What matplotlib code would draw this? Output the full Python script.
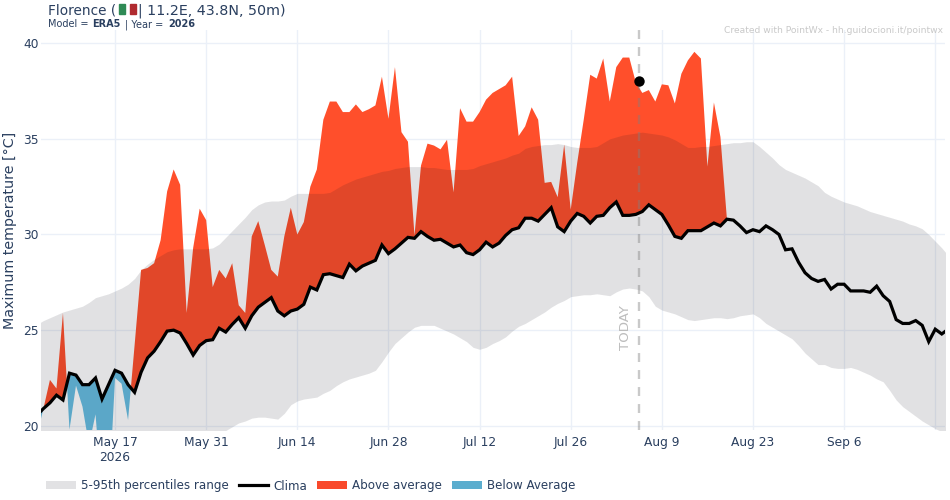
import numpy as np
import pandas as pd
import matplotlib
matplotlib.use("Agg")
import matplotlib.pyplot as plt
import matplotlib.dates as mdates
from matplotlib.patches import Patch, Rectangle
from matplotlib.lines import Line2D

start_date = "2026-05-05"
today_date = "2026-08-05 10:00"
today_value = 38.0
tick_dates = ["2026-05-17", "2026-05-31", "2026-06-14", "2026-06-28", "2026-07-12",
              "2026-07-26", "2026-08-09", "2026-08-23", "2026-09-06", "2026-09-20"]
tick_labels = ["May 17\n2026", "May 31", "Jun 14", "Jun 28", "Jul 12",
               "Jul 26", "Aug 9", "Aug 23", "Sep 6", ""]
y_ticks = [20, 25, 30, 35, 40]

clima = [20.55, 20.9, 21.2, 21.6, 21.35, 22.75, 22.65, 22.15, 22.15, 22.5,
         21.4, 22.15, 22.9, 22.75, 22.15, 21.75, 22.8, 23.55, 23.9, 24.4,
         24.95, 25.0, 24.85, 24.3, 23.7, 24.2, 24.45, 24.5, 25.1, 24.9,
         25.3, 25.65, 25.1, 25.75, 26.2, 26.45, 26.7, 26.0, 25.75, 26.0,
         26.1, 26.35, 27.25, 27.1, 27.9, 27.95, 27.85, 27.75, 28.45, 28.1,
         28.35, 28.5, 28.65, 29.45, 29.0, 29.25, 29.55, 29.85, 29.8, 30.15,
         29.9, 29.7, 29.75, 29.55, 29.35, 29.45, 29.05, 28.95, 29.2, 29.6,
         29.35, 29.55, 29.95, 30.25, 30.35, 30.85, 30.85, 30.7, 31.05, 31.4,
         30.4, 30.15, 30.7, 31.1, 30.95, 30.6, 30.95, 31.0, 31.4, 31.7,
         31.0, 31.0, 31.05, 31.2, 31.55, 31.3, 31.05, 30.5, 29.9, 29.8,
         30.2, 30.2, 30.2, 30.4, 30.6, 30.45, 30.8, 30.75, 30.45, 30.1,
         30.25, 30.15, 30.45, 30.25, 30.0, 29.2, 29.25, 28.55, 28.0, 27.7,
         27.55, 27.65, 27.15, 27.4, 27.4, 27.05, 27.05, 27.05, 26.98, 27.3,
         26.8, 26.5, 25.55, 25.35, 25.35, 25.5, 25.25, 24.4, 25.05, 24.8,
         25.05]

observed = [19.5, 20.9, 22.4, 21.95, 25.9, 19.8, 22.1, 21.0, 19.0, 20.6,
            16.3, 16.0, 22.5, 22.2, 20.3, 24.2, 28.15, 28.25, 28.5, 29.7,
            32.25, 33.4, 32.6, 25.9, 29.3, 31.35, 30.75, 27.25, 28.15, 27.7,
            28.5, 26.3, 25.9, 29.9, 30.7, 29.45, 28.15, 27.8, 29.9, 31.4,
            30.0, 30.65, 32.5, 33.4, 36.0, 36.95, 36.95, 36.4, 36.4, 36.8,
            36.4, 36.55, 36.75, 38.25, 36.05, 38.75, 35.35, 34.85, 29.95, 33.6,
            34.75, 34.65, 34.45, 34.95, 32.2, 36.6, 35.9, 35.9, 36.4, 37.05,
            37.4, 37.6, 37.8, 38.25, 35.15, 35.65, 36.65, 36.0, 32.7, 32.75,
            31.95, 34.7, 31.3, 33.75, 36.0, 38.35, 38.15, 39.2, 36.95, 38.75,
            39.25, 39.25, 37.95, 37.4, 37.55, 36.95, 37.85, 37.8, 36.85, 38.4,
            39.1, 39.55, 39.2, 33.55, 36.9, 35.1, 30.8]

p95 = [25.3, 25.5, 25.65, 25.8, 25.95, 26.05, 26.15, 26.25, 26.45, 26.7,
       26.8, 26.9, 27.05, 27.2, 27.4, 27.7, 28.15, 28.45, 28.7, 28.9,
       29.1, 29.2, 29.25, 29.25, 29.25, 29.25, 29.25, 29.3, 29.5, 29.85,
       30.2, 30.55, 30.9, 31.3, 31.55, 31.7, 31.75, 31.75, 31.8, 32.0,
       32.15, 32.15, 32.15, 32.15, 32.15, 32.2, 32.4, 32.6, 32.75, 32.9,
       33.0, 33.1, 33.2, 33.3, 33.35, 33.45, 33.5, 33.55, 33.55, 33.55,
       33.5, 33.5, 33.45, 33.4, 33.4, 33.4, 33.4, 33.45, 33.6, 33.7,
       33.8, 33.9, 34.0, 34.15, 34.25, 34.5, 34.6, 34.65, 34.7, 34.7,
       34.75, 34.7, 34.6, 34.55, 34.55, 34.55, 34.6, 34.8, 35.0, 35.1,
       35.2, 35.25, 35.3, 35.35, 35.3, 35.25, 35.2, 35.1, 34.95, 34.75,
       34.55, 34.55, 34.6, 34.6, 34.65, 34.7, 34.75, 34.8, 34.8, 34.85,
       34.85, 34.6, 34.3, 34.0, 33.65, 33.4, 33.25, 33.1, 32.95, 32.75,
       32.55, 32.2, 32.0, 31.85, 31.7, 31.6, 31.5, 31.35, 31.2, 31.1,
       31.0, 30.9, 30.8, 30.7, 30.55, 30.45, 30.3, 30.0, 29.65, 29.3,
       28.9]

p5 = [18.6, 18.7, 18.7, 18.8, 18.8, 18.9, 18.9, 19.0, 19.0, 19.1,
      19.1, 19.1, 19.2, 19.2, 19.2, 19.3, 19.3, 19.3, 19.4, 19.4,
      19.4, 19.5, 19.5, 19.5, 19.6, 19.6, 19.6, 19.7, 19.7, 19.75,
      19.95, 20.15, 20.25, 20.4, 20.45, 20.45, 20.4, 20.35, 20.65, 21.1,
      21.3, 21.4, 21.45, 21.5, 21.7, 21.85, 22.1, 22.3, 22.45, 22.55,
      22.65, 22.75, 22.9, 23.35, 23.85, 24.3, 24.6, 24.9, 25.15, 25.25,
      25.25, 25.25, 25.1, 24.95, 24.8, 24.6, 24.4, 24.1, 24.0, 24.1,
      24.3, 24.45, 24.65, 24.95, 25.2, 25.35, 25.55, 25.75, 25.95, 26.2,
      26.4, 26.55, 26.75, 26.8, 26.85, 26.85, 26.9, 26.85, 26.8, 27.0,
      27.15, 27.2, 27.15, 27.05, 26.75, 26.25, 26.05, 25.95, 25.85, 25.7,
      25.55, 25.5, 25.55, 25.6, 25.65, 25.65, 25.6, 25.65, 25.75, 25.8,
      25.85, 25.65, 25.35, 25.15, 24.95, 24.75, 24.55, 24.2, 23.8, 23.5,
      23.2, 23.2, 23.05, 23.0, 23.0, 23.05, 22.95, 22.8, 22.65, 22.45,
      22.3, 21.85, 21.35, 21.0, 20.75, 20.5, 20.25, 20.05, 19.85, 19.7,
      19.6]

INK = "#2a3f5f"
W, H = 950, 500
plt.rcParams["font.family"] = "DejaVu Sans"
fig = plt.figure(figsize=(W / 100, H / 100), dpi=100)
ax = fig.add_axes([41 / W, 1 - 430 / H, (945 - 41) / W, 400 / H])

x = mdates.date2num(pd.date_range(start_date, periods=len(clima), freq="D"))
clima_a = np.array(clima)
obs = np.array(observed)
xo = x[: len(obs)]
co = clima_a[: len(obs)]

ax.fill_between(xo, co, obs, where=obs >= co, interpolate=True, color="#ff4f2b", lw=0, zorder=2)
ax.fill_between(xo, co, obs, where=obs <= co, interpolate=True, color="#66bde0", lw=0, zorder=2)
ax.fill_between(x, p5, p95, color="#10101e", alpha=0.12, lw=0, zorder=3)
ax.plot(x, clima, color="black", lw=2.3, solid_joinstyle="miter", zorder=4)

today_x = mdates.date2num(pd.Timestamp(today_date))
ax.axvline(today_x, color="#808080", alpha=0.42, lw=1.7, dashes=(3.8, 3.4), zorder=5)
ax.plot([today_x], [today_value], "o", color="black", ms=7.5, mew=0, zorder=6, clip_on=False)
ax.text(today_x - 13.5 / 6.51, 26.3, "TODAY", rotation=90, ha="center", va="top",
        fontsize=9.6, color="#bdbdbd", zorder=6)

ax.set_xlim(mdates.date2num(pd.Timestamp("2026-05-05 15:00")),
            mdates.date2num(pd.Timestamp("2026-09-21 12:00")))
ax.set_ylim(19.78, 40.69)
ax.set_xticks(mdates.date2num(pd.to_datetime(tick_dates)))
ax.set_xticklabels(tick_labels)
ax.set_yticks(y_ticks)
ax.grid(True, color="#ebf0f8", lw=1.0, zorder=0)
ax.set_axisbelow(True)
for s in ax.spines.values():
    s.set_visible(False)
ax.tick_params(length=0, labelsize=8.8, labelcolor=INK, pad=4)
ax.tick_params(axis="y", pad=1.5)
ax.set_ylabel("Maximum temperature [°C]", fontsize=10.3, color=INK)
ax.yaxis.set_label_coords((17.5 - 41) / (945 - 41), 1 - (230 - 30) / 400)


def px_text(px, py, s, **kw):
    kw.setdefault("color", INK)
    return fig.text(px / W, 1 - py / H, s, va="baseline", **kw)


px_text(48, 15, "Florence (", fontsize=9.8)
fig.add_artist(Rectangle((119 / W, 1 - 14 / H), 6 / W, 10 / H, color="#2f8a55", transform=fig.transFigure))
fig.add_artist(Rectangle((130 / W, 1 - 14 / H), 6 / W, 10 / H, color="#b02a2f", transform=fig.transFigure))
px_text(138, 15, "| 11.2E, 43.8N, 50m)", fontsize=10.3)
px_text(48, 27, "Model = ", fontsize=7.0)
px_text(92, 27, "ERA5", fontsize=7.0, fontweight="bold")
px_text(125, 27, "| Year = ", fontsize=7.0)
px_text(168, 27, "2026", fontsize=7.0, fontweight="bold")
px_text(943, 33, "Created with PointWx - hh.guidocioni.it/pointwx", fontsize=6.55,
        ha="right", color="#c9c9c9")

handles = [Patch(color="#e2e2e4", lw=0), Line2D([], [], color="black", lw=2.3),
           Patch(color="#f9492b", lw=0), Patch(color="#5badce", lw=0)]
labels = ["5-95th percentiles range", "Clima", "Above average", "Below Average"]
fig.legend(handles, labels, ncol=4, frameon=False, fontsize=8.6, labelcolor=INK,
           loc="center left", bbox_to_anchor=(46 / W, 1 - 486 / H), borderaxespad=0, borderpad=0,
           handlelength=2.5, handleheight=0.6, handletextpad=0.42, columnspacing=0.83)

fig.savefig("out.png", dpi=100)
